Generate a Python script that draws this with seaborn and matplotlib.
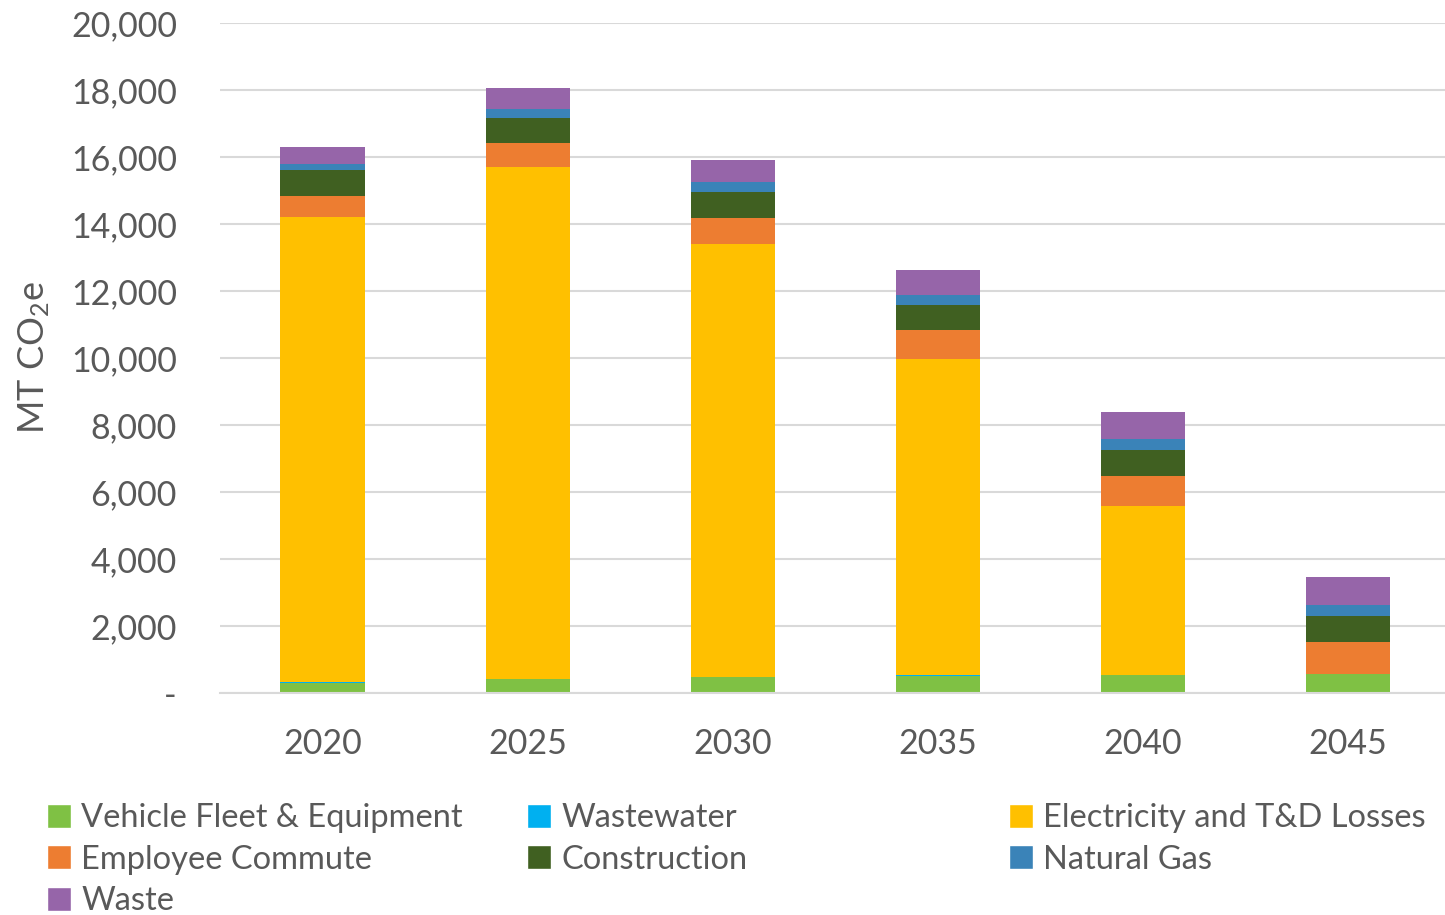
import numpy as np
import seaborn as sns
import matplotlib.pyplot as plt
from matplotlib.patches import Patch

# data (MT CO2e)
years = ["2020", "2025", "2030", "2035", "2040", "2045"]
vehicle = [310, 418, 478, 507, 546, 576]
wastewater = [30, 0, 0, 30, 0, 0]
electricity = [13870, 15293, 12935, 9433, 5045, 0]
commute = [636, 698, 776, 857, 896, 946]
construction = [767, 764, 767, 755, 767, 767]
natural_gas = [188, 251, 290, 299, 319, 337]
waste = [498, 636, 666, 737, 806, 827]

series = [
    ("Vehicle Fleet & Equipment", vehicle, "#7FC144"),
    ("Wastewater", wastewater, "#00B0F0"),
    ("Electricity and T&D Losses", electricity, "#FFC000"),
    ("Employee Commute", commute, "#ED7D31"),
    ("Construction", construction, "#406021"),
    ("Natural Gas", natural_gas, "#3A83B8"),
    ("Waste", waste, "#9665A9"),
]

sns.set_theme(style="white")
plt.rcParams["font.family"] = ["Lato", "DejaVu Sans"]
plt.rcParams["mathtext.default"] = "regular"

fig, ax = plt.subplots(figsize=(14.45, 9.15), dpi=100)
fig.subplots_adjust(left=220 / 1445, right=1.0, top=1 - 23 / 915, bottom=1 - 693 / 915)

# stacked bars: draw cumulative totals from the top layer down
cum = np.cumsum([s[1] for s in series], axis=0)
for i in range(len(series) - 1, -1, -1):
    sns.barplot(x=years, y=cum[i], color=series[i][2], width=0.41,
                saturation=1, ax=ax, linewidth=0, zorder=2)

ax.set_xlim(-0.5, 5.475)
ax.set_ylim(0, 20000)
ax.set_yticks(np.arange(0, 20001, 2000))
ax.set_yticklabels(["-"] + [f"{v:,}" for v in range(2000, 20001, 2000)])
ax.yaxis.grid(True, color="#D9D9D9", linewidth=1.5, zorder=0)
ax.set_axisbelow(True)
for s in ["left", "right", "top"]:
    ax.spines[s].set_visible(False)
ax.spines["bottom"].set_color("#D9D9D9")
ax.spines["bottom"].set_linewidth(1.5)
ax.tick_params(axis="y", labelsize=24.5, labelcolor="#595959", length=0, pad=31)
ax.tick_params(axis="x", labelsize=24.5, labelcolor="#595959", length=0, pad=25)
ax.set_xlabel("")
ax.set_ylabel("MT CO$_2$e", fontsize=26, color="#595959", labelpad=14)

# legend in three fixed-width columns
cols = [[0, 3, 6], [1, 4], [2, 5]]
xs = [47 / 1445, 527 / 1445, 1009 / 1445]
for col, x in zip(cols, xs):
    handles = [Patch(facecolor=series[j][2], label=series[j][0]) for j in col]
    fig.legend(handles=handles, loc="upper left", bbox_to_anchor=(x, 1 - 803 / 915),
               frameon=False, fontsize=23.5, labelcolor="#595959",
               handlelength=0.75, handleheight=0.75, handletextpad=0.3,
               labelspacing=0.36, borderaxespad=0, borderpad=0)

fig.savefig("out.png", dpi=100)
